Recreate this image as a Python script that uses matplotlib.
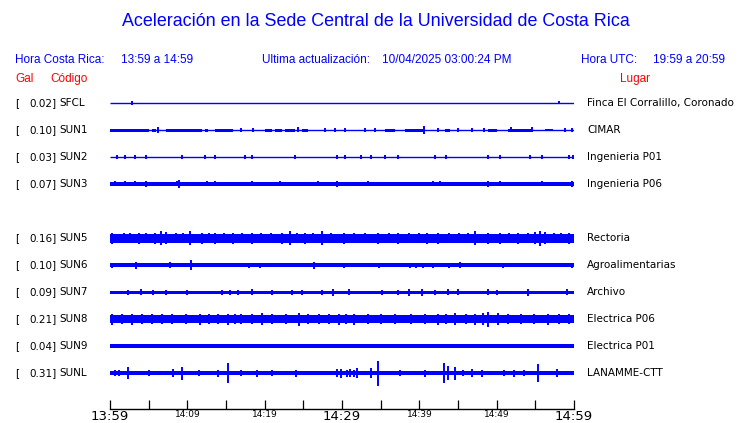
import numpy as np
import matplotlib
matplotlib.use('Agg')
from matplotlib import pyplot as plt

# station table
stations = ['SFCL', 'SUN1', 'SUN2', 'SUN3', 'SUN5', 'SUN6', 'SUN7', 'SUN8', 'SUN9', 'SUNL']
gal = [0.02, 0.10, 0.03, 0.07, 0.16, 0.10, 0.09, 0.21, 0.04, 0.31]
places = ['Finca El Corralillo, Coronado', 'CIMAR', 'Ingenieria P01', 'Ingenieria P06',
          'Rectoria', 'Agroalimentarias', 'Archivo', 'Electrica P06', 'Electrica P01',
          'LANAMME-CTT']
rows = [0, 1, 2, 3, 5, 6, 7, 8, 9, 10]

# background half amplitude of each trace (px)
base = [0.4, 0.45, 0.45, 1.7, 4.5, 1.9, 1.5, 4.2, 1.7, 2.3]

# louder stretches: (start min, end min, half amplitude)
bands = [
    [],
    [(0, 5.0, 1.5), (5.4, 6.0, 1.5), (7.3, 11.9, 1.5), (12.3, 12.7, 1.5), (13.6, 15.9, 1.5),
     (20.0, 20.9, 1.5), (21.3, 22.2, 1.5), (22.6, 23.9, 1.5), (24.8, 25.6, 1.5),
     (35.6, 36.8, 1.5), (38.1, 40.5, 1.5), (43.3, 44.0, 1.5), (48.9, 50.0, 1.5),
     (51.5, 54.7, 1.5), (56.2, 57.3, 1.3)],
    [],
    [],
    [],
    [],
    [],
    [],
    [],
    [],
]

# bursts: (minute, half amplitude)
spikes = [
    [(2.8, 2.0), (58.1, 1.5)],
    [(6.2, 3.0), (24.3, 2.5), (40.6, 4.0), (51.8, 2.5), (54.6, 2.5), (17.0, 2.0), (18.5, 2.0),
     (27.8, 2.0), (29.1, 2.0), (30.4, 2.0), (33.0, 2.0), (34.3, 2.0), (42.4, 2.0), (45.0, 2.0),
     (46.8, 2.0), (48.3, 2.0), (58.8, 2.0), (59.7, 2.0)],
    [(0.86, 1.6), (1.94, 1.6), (3.2, 1.6), (4.7, 1.6), (9.3, 1.6), (12.3, 1.6), (13.6, 1.6),
     (17.5, 1.6), (18.3, 1.8), (23.9, 1.6), (29.3, 1.8), (30.4, 1.6), (32.5, 1.6), (33.8, 1.6),
     (35.6, 1.6), (37.3, 1.6), (42.0, 1.6), (43.5, 1.6), (48.9, 1.6), (50.4, 1.6), (54.3, 1.6),
     (55.8, 1.6), (59.3, 1.8), (59.9, 1.8)],
    [(0.65, 2.5), (1.9, 2.5), (3.2, 2.5), (4.7, 3.0), (8.6, 2.5), (8.9, 4.0), (12.5, 2.5),
     (13.6, 2.5), (18.3, 2.5), (22.0, 2.5), (26.9, 2.5), (29.3, 3.0), (33.4, 2.5), (41.8, 2.5),
     (42.7, 2.5), (48.9, 2.8), (50.4, 2.5), (55.8, 2.5), (59.7, 2.8)],
    [(0.2, 5.5), (1.8, 4.8), (2.6, 5.0), (3.7, 5.5), (4.6, 5.0), (5.8, 5.5), (6.6, 7.0),
     (7.3, 6.0), (8.5, 5.0), (9.4, 5.2), (10.3, 7.0), (11.9, 5.5), (12.8, 5.0), (13.6, 5.5),
     (14.8, 5.0), (15.9, 5.5), (17.1, 5.0), (18.3, 5.5), (19.5, 5.0), (20.8, 5.0), (22.2, 5.5),
     (23.3, 7.0), (24.2, 5.2), (25.2, 5.5), (26.3, 5.2), (27.4, 7.0), (28.6, 5.2), (30.2, 5.5),
     (31.6, 5.0), (33.0, 5.0), (34.7, 5.5), (36.1, 5.0), (37.3, 5.5), (38.7, 5.0), (39.9, 5.0),
     (41.0, 5.5), (42.4, 5.5), (43.8, 5.0), (45.1, 5.0), (46.3, 5.2), (47.2, 7.0), (48.9, 5.5),
     (50.4, 5.5), (51.6, 5.0), (52.8, 5.5), (54.1, 5.2), (55.0, 6.0), (55.6, 7.5), (56.3, 6.0),
     (57.4, 5.0), (58.3, 5.2), (59.3, 5.5)],
    [(0.2, 2.5), (3.3, 3.5), (7.8, 3.0), (10.5, 4.7), (18.0, 2.5), (19.4, 2.5), (26.4, 3.5),
     (30.2, 2.5), (34.8, 2.5), (38.8, 2.5), (39.6, 2.5), (40.5, 2.5), (41.8, 2.5), (43.9, 2.5),
     (45.3, 3.0), (50.8, 2.5), (55.2, 2.3), (59.8, 2.5)],
    [(2.3, 2.5), (4.0, 3.0), (5.6, 2.5), (7.3, 2.5), (9.9, 2.5), (14.5, 2.5), (15.5, 2.5),
     (16.6, 2.5), (18.3, 3.0), (20.9, 2.5), (23.5, 2.5), (24.8, 2.5), (27.4, 2.5), (28.9, 3.5),
     (30.9, 3.0), (35.2, 2.5), (37.3, 2.5), (38.6, 3.5), (40.3, 3.5), (42.0, 2.5), (43.7, 3.0),
     (45.0, 3.0), (48.9, 3.0), (50.0, 2.5), (54.1, 3.5), (59.1, 3.0)],
    [(0.2, 5.5), (1.5, 5.0), (2.8, 5.5), (4.1, 4.8), (5.4, 5.0), (6.7, 4.8), (8.0, 5.0),
     (9.8, 4.8), (11.6, 5.5), (12.8, 4.8), (14.0, 5.0), (15.3, 5.5), (16.2, 5.0), (17.0, 5.0),
     (18.4, 5.2), (19.6, 6.0), (21.0, 4.8), (22.7, 5.0), (24.4, 6.5), (25.6, 5.0), (27.0, 5.0),
     (28.3, 5.0), (29.6, 5.5), (30.5, 5.0), (31.5, 5.5), (33.4, 5.0), (35.0, 4.8), (36.8, 4.8),
     (38.9, 4.8), (40.7, 5.0), (42.4, 5.5), (43.5, 5.2), (44.6, 6.0), (46.0, 5.2), (47.2, 5.5),
     (48.2, 6.0), (48.9, 7.5), (50.2, 6.0), (51.5, 5.0), (53.2, 5.0), (54.8, 5.0), (56.6, 5.5),
     (58.0, 5.0), (59.3, 5.0)],
    [(2.0, 2.4), (7.5, 2.4), (12.0, 2.4), (17.4, 2.4), (22.5, 2.4), (27.0, 2.4), (31.8, 2.4),
     (36.0, 2.4), (41.2, 2.4), (46.0, 2.4), (51.0, 2.4), (56.3, 2.4)],
    [(1.2, 3.0), (2.3, 6.0), (8.2, 4.0), (9.35, 6.5), (14.0, 3.5), (15.2, 10.0), (17.0, 3.0),
     (19.0, 3.5), (24.1, 3.5), (29.3, 4.0), (29.9, 4.5), (30.6, 3.5), (31.0, 4.0), (31.5, 3.5),
     (32.0, 5.0), (33.8, 5.0), (34.7, 12.5), (40.7, 3.5), (43.2, 10.0), (43.7, 7.0), (44.6, 6.5),
     (46.8, 4.0), (48.1, 3.5), (55.3, 9.0), (57.8, 4.0), (5.0, 3.0), (11.5, 3.0), (21.0, 3.0),
     (37.5, 3.0), (51.0, 3.0), (53.5, 3.0), (0.6, 3.0), (45.6, 3.0), (52.2, 3.5)],
]

# x axis (minutes after 13:59)
tick_minutes = list(range(0, 61, 5))
tick_text = {0: '13:59', 10: '14:09', 20: '14:19', 30: '14:29', 40: '14:39', 50: '14:49', 60: '14:59'}

BLUE = '#0000ff'
W, H = 740, 423


def fx(px):
    return px / W


def fy(py):
    return 1 - py / H


fig = plt.figure(figsize=(7.4, 4.23), dpi=100)
fig.patch.set_facecolor('white')

ax = fig.add_axes([fx(110), fy(409), fx(574) - fx(110), fy(90) - fy(409)])
ax.set_xlim(0, 60)
ax.set_ylim(409, 90)

for i, st in enumerate(stations):
    yc = 103 + 27 * rows[i]
    if base[i] < 0.8:
        ax.hlines(yc, 0, 60, color=BLUE, lw=1.0)
    else:
        ax.fill_between([0, 60], yc - base[i], yc + base[i], color=BLUE, lw=0)
    for t0, t1, h in bands[i]:
        ax.fill_between([t0, t1], yc - h, yc + h, color=BLUE, lw=0)
    if spikes[i]:
        t = np.array([s[0] for s in spikes[i]])
        h = np.array([s[1] for s in spikes[i]])
        ax.vlines(t, yc - h, yc + h, color=BLUE, lw=1.4)

    fig.text(fx(15), fy(yc), '[', fontsize=7.5, va='center', ha='left', color='black')
    fig.text(fx(57), fy(yc), '%.2f]' % gal[i], fontsize=7.5, va='center', ha='right', color='black')
    fig.text(fx(59), fy(yc), st, fontsize=7.5, va='center', ha='left', color='black')
    fig.text(fx(587), fy(yc), places[i], fontsize=7.5, va='center', ha='left', color='black')

for s in ['top', 'left', 'right']:
    ax.spines[s].set_visible(False)
ax.spines['bottom'].set_linewidth(1.0)
ax.set_yticks([])
ax.set_xticks(tick_minutes)
ax.set_xticklabels([tick_text.get(m, '') for m in tick_minutes])
ax.tick_params(axis='x', direction='in', length=6.5, width=0.9, pad=1, color='black')
for m, lab in zip(tick_minutes, ax.get_xticklabels()):
    if m in (0, 30, 60):
        lab.set_fontsize(9.5)
    else:
        lab.set_fontsize(6.5)

# header
fig.text(0.508, fy(22), 'Aceleración en la Sede Central de la Universidad de Costa Rica',
         fontsize=12.9, family='Liberation Sans', color=BLUE, ha='center', va='center')
hdr = dict(fontsize=8.5, family='Liberation Sans', color=BLUE, va='center')
fig.text(fx(15), fy(60), 'Hora Costa Rica:', ha='left', **hdr)
fig.text(fx(121), fy(60), '13:59 a 14:59', ha='left', **hdr)
fig.text(fx(262), fy(60), 'Ultima actualización:', ha='left', **hdr)
fig.text(fx(382), fy(60), '10/04/2025 03:00:24 PM', ha='left', **hdr)
fig.text(fx(581), fy(60), 'Hora UTC:', ha='left', **hdr)
fig.text(fx(725), fy(60), '19:59 a 20:59', ha='right', **hdr)
red = dict(fontsize=8.5, family='Liberation Sans', color='red', va='center')
fig.text(fx(15), fy(79), 'Gal', ha='left', **red)
fig.text(fx(50), fy(79), 'Código', ha='left', **red)
fig.text(fx(620), fy(79), 'Lugar', ha='left', **red)

fig.savefig('out.png', dpi=100, facecolor='white')
